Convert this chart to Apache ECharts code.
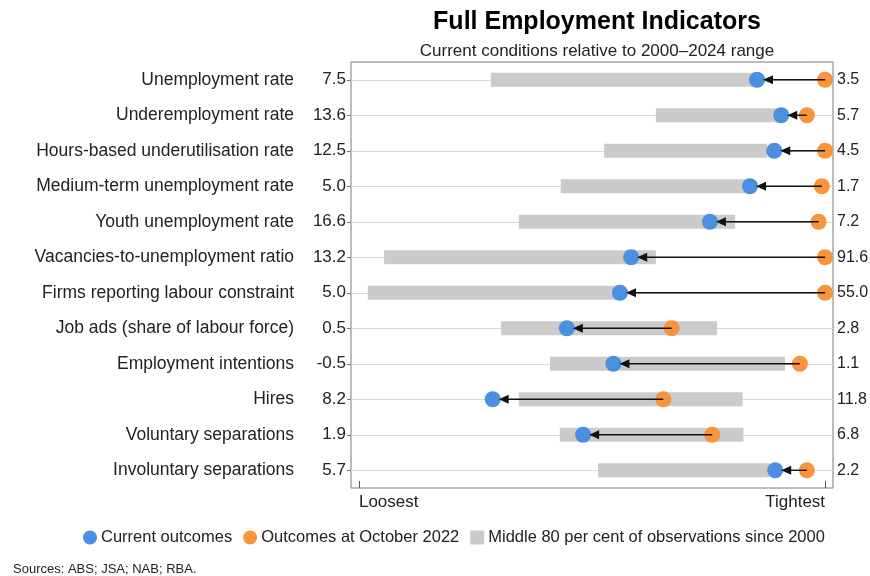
<!DOCTYPE html>
<html>
<head>
<meta charset="utf-8">
<script src="https://cdn.jsdelivr.net/npm/echarts@6/dist/echarts.min.js"></script>
<style>html,body{margin:0;padding:0;background:#fff}#c{width:870px;height:576px}</style>
</head>
<body>
<div id="c"></div>
<script>
// ---- data ----
var categories = ['Unemployment rate','Underemployment rate','Hours-based underutilisation rate','Medium-term unemployment rate','Youth unemployment rate','Vacancies-to-unemployment ratio','Firms reporting labour constraint','Job ads (share of labour force)','Employment intentions','Hires','Voluntary separations','Involuntary separations'];
var loosestLabels = ['7.5','13.6','12.5','5.0','16.6','13.2','5.0','0.5','-0.5','8.2','1.9','5.7'];
var tightestLabels = ['3.5','5.7','4.5','1.7','7.2','91.6','55.0','2.8','1.1','11.8','6.8','2.2'];
// positions on a 0 (loosest) .. 100 (tightest) scale
var rangeLow  = [28.3, 63.7, 52.6, 43.3, 34.3, 5.4, 1.9, 30.5, 41.0, 34.3, 43.1, 51.3];
var rangeHigh = [85.4, 89.9, 87.6, 83.2, 80.7, 63.7, 56.0, 76.8, 91.4, 82.3, 82.5, 88.2];
var current   = [85.4, 90.6, 89.1, 83.9, 75.3, 58.4, 56.0, 44.6, 54.6, 28.7, 48.1, 89.3];
var oct2022   = [100, 96.1, 100, 99.3, 98.6, 100, 100, 67.1, 94.6, 65.3, 75.8, 96.1];
var axisEnds = ['Loosest', 'Tightest'];

var FONT = '"Liberation Sans", Arial, sans-serif';
var BLUE = '#4a8fe0', ORANGE = '#f7943c', GREY = '#cbcbcb';

var chart = echarts.init(document.getElementById('c'), null, {renderer: 'canvas'});

var rangeData = categories.map(function (c, i) { return [rangeLow[i], rangeHigh[i], i]; });
var arrowData = categories.map(function (c, i) { return [current[i], oct2022[i], i]; });
var curData = categories.map(function (c, i) { return [current[i], i]; });
var octData = categories.map(function (c, i) { return [oct2022[i], i]; });
var gridData = categories.map(function (c, i) { return [0, i]; });

var option = {
  animation: false,
  textStyle: {fontFamily: FONT},
  title: [
    {text: 'Full Employment Indicators', left: 592, top: 5, textAlign: 'center',
     textStyle: {fontFamily: FONT, fontSize: 25, fontWeight: 'bold', color: '#000'}},
    {text: 'Current conditions relative to 2000\u20132024 range', left: 592, top: 38, textAlign: 'center',
     textStyle: {fontFamily: FONT, fontSize: 17, fontWeight: 'normal', color: '#222'}},
    {text: 'Sources: ABS; JSA; NAB; RBA.', left: 8, top: 558,
     textStyle: {fontFamily: FONT, fontSize: 13, fontWeight: 'normal', color: '#222'}}
  ],
  legend: {
    left: 78, top: 524, itemWidth: 14, itemHeight: 14, itemGap: 11,
    textStyle: {fontFamily: FONT, fontSize: 16.5, color: '#222', padding: [0, 0, 0, -1]},
    data: [
      {name: 'Current outcomes', icon: 'circle'},
      {name: 'Outcomes at October 2022', icon: 'circle'},
      {name: 'Middle 80 per cent of observations since 2000', icon: 'rect'}
    ],
    selectedMode: false
  },
  grid: {left: 351, right: 37, top: 62, bottom: 88, show: true, borderColor: '#7a7a7a', borderWidth: 1,
         backgroundColor: 'transparent', containLabel: false, outerBoundsMode: 'none'},
  xAxis: {
    type: 'value', min: -1.7, max: 101.7,
    axisLine: {show: false},
    splitLine: {show: false},
    axisTick: {show: true, inside: true, length: 7, customValues: [0, 100], lineStyle: {color: '#555'}},
    axisLabel: {customValues: [0, 100], margin: 6, fontFamily: FONT, fontSize: 17, color: '#222',
      alignMinLabel: 'left', alignMaxLabel: 'right',
      formatter: function (v) { return v < 50 ? axisEnds[0] : axisEnds[1]; }}
  },
  yAxis: [
    {type: 'category', data: categories, inverse: true, position: 'left',
     axisLine: {show: false},
     axisTick: {show: false},
     splitLine: {show: false},
     axisLabel: {interval: 0, margin: 5, color: '#222', fontFamily: FONT, fontSize: 17.5,
       formatter: function (v, i) { return '{n|' + v + '}{v|' + loosestLabels[i] + '}'; },
       rich: {n: {fontFamily: FONT, fontSize: 17.5, color: '#222'},
              v: {fontFamily: FONT, fontSize: 17, color: '#222', width: 52, align: 'right'}}}},
    {type: 'category', data: categories, inverse: true, position: 'right',
     axisLine: {show: false}, axisTick: {show: false}, splitLine: {show: false},
     axisLabel: {interval: 0, margin: 4, color: '#222', fontFamily: FONT, fontSize: 16,
       formatter: function (v, i) { return tightestLabels[i]; }}}
  ],
  series: [
    {type: 'custom', name: 'gridlines', silent: true, z: 1, data: gridData, clip: false,
     encode: {x: 0, y: 1},
     renderItem: function (params, api) {
       var p = api.coord([0, api.value(1)]);
       var cs = params.coordSys;
       var y = Math.round(p[1]) + 0.5;
       return {type: 'group', children: [
         {type: 'line', shape: {x1: cs.x, y1: y, x2: cs.x + cs.width, y2: y},
          style: {stroke: '#d9d9d9', lineWidth: 1}},
         {type: 'line', shape: {x1: cs.x - 4, y1: y, x2: cs.x, y2: y},
          style: {stroke: '#777', lineWidth: 1}}
       ]};
     }},
    {type: 'custom', name: 'Middle 80 per cent of observations since 2000', z: 2, data: rangeData,
     itemStyle: {color: GREY},
     encode: {x: [0, 1], y: 2},
     renderItem: function (params, api) {
       var a = api.coord([api.value(0), api.value(2)]);
       var b = api.coord([api.value(1), api.value(2)]);
       var h = 14;
       return {type: 'rect', shape: {x: a[0], y: a[1] - h / 2, width: b[0] - a[0], height: h},
               style: {fill: GREY}};
     }},
    {type: 'scatter', name: 'Outcomes at October 2022', z: 3, data: octData, symbolSize: 16,
     itemStyle: {color: ORANGE, opacity: 1}},
    {type: 'scatter', name: 'Current outcomes', z: 3, data: curData, symbolSize: 16,
     itemStyle: {color: BLUE, opacity: 1}},
    {type: 'custom', name: 'arrows', silent: true, z: 4, data: arrowData,
     encode: {x: [0, 1], y: 2},
     renderItem: function (params, api) {
       var b = api.coord([api.value(0), api.value(2)]);
       var o = api.coord([api.value(1), api.value(2)]);
       var dir = o[0] >= b[0] ? 1 : -1;
       var tip = b[0] + dir * 6;
       var y = b[1];
       var L = 10, W = 4.5;
       return {type: 'group', children: [
         {type: 'line', shape: {x1: tip + dir * L * 0.8, y1: y, x2: o[0], y2: o[1]},
          style: {stroke: '#111', lineWidth: 1.4}},
         {type: 'polygon', shape: {points: [[tip, y], [tip + dir * L, y - W], [tip + dir * L, y + W]]},
          style: {fill: '#111'}}
       ]};
     }}
  ]
};
chart.setOption(option);
</script>
</body>
</html>
